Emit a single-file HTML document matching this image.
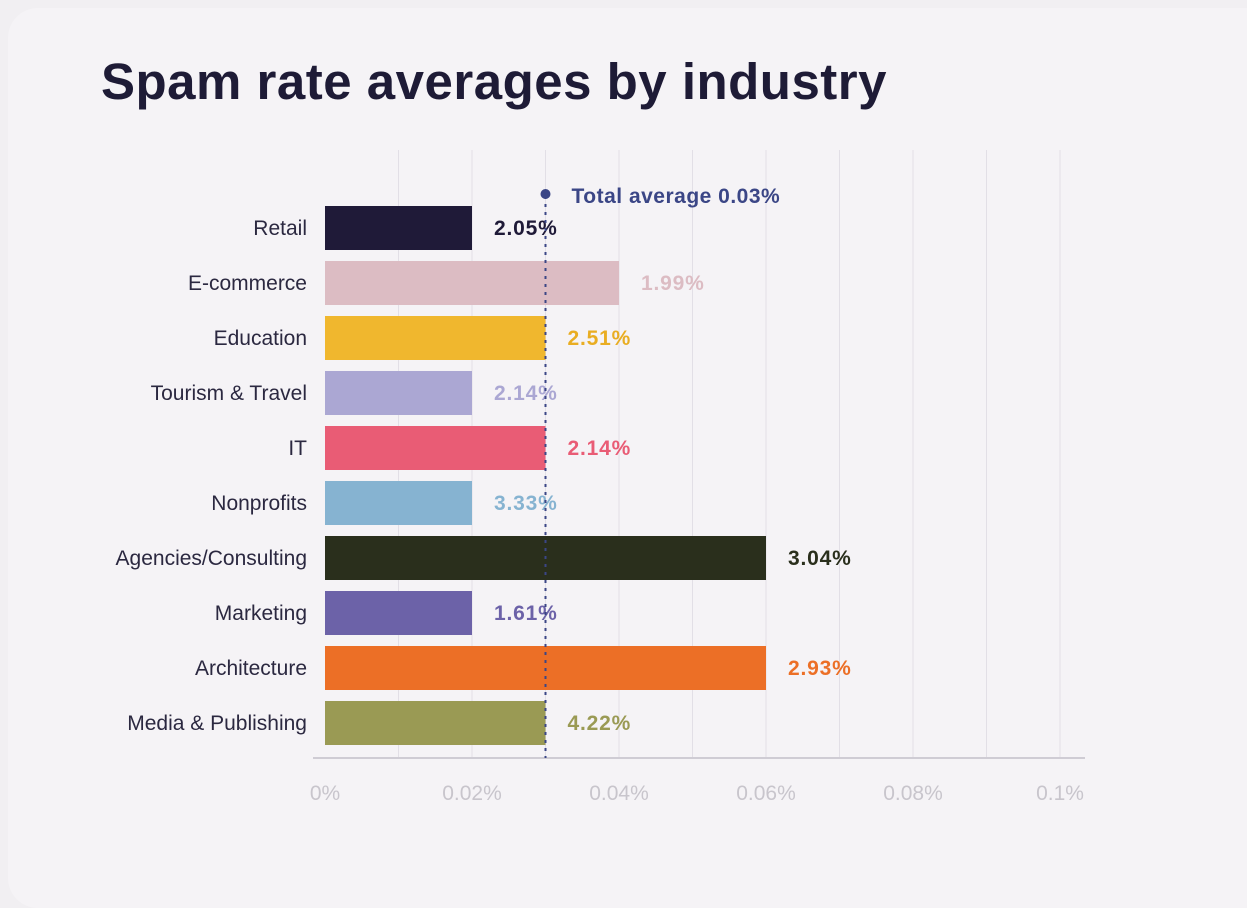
<!DOCTYPE html>
<html><head><meta charset="utf-8"><style>
body{margin:0;width:1247px;height:861px;background:#f1eff2;overflow:hidden;font-family:"Liberation Sans",sans-serif;position:relative}
#card{position:absolute;left:8px;top:8px;width:1300px;height:900px;background:#f5f3f6;border-radius:30px}
h1{position:absolute;left:101px;top:52px;margin:0;font-size:51px;font-weight:bold;color:#1e1b36;letter-spacing:0.5px}
</style></head><body>
<div id="card"></div>
<h1>Spam rate averages by industry</h1>
<svg id="chart" width="1247" height="861" style="position:absolute;left:0;top:0"></svg>
<script>
const categories=["Retail","E-commerce","Education","Tourism & Travel","IT","Nonprofits","Agencies/Consulting","Marketing","Architecture","Media & Publishing"];
const values=[0.02,0.04,0.03,0.02,0.03,0.02,0.06,0.02,0.06,0.03];
const printedLabels=["2.05%","1.99%","2.51%","2.14%","2.14%","3.33%","3.04%","1.61%","2.93%","4.22%"];
const colors=["#1f1a38","#dcbcc3","#f0b72e","#aba7d3","#e95c75","#86b3d1","#2a2f1c","#6c62a8","#ec6f26","#9a9a54"];
const labelColors=["#1f1a38","#dcbcc3","#e9ad22","#aba7d3","#e95c75","#86b3d1","#2a2f1c","#6c62a8","#ec6f26","#9a9a54"];
const ticks=[0,0.02,0.04,0.06,0.08,0.1];
const tickLabels=["0%","0.02%","0.04%","0.06%","0.08%","0.1%"];
const gridVals=[0.01,0.02,0.03,0.04,0.05,0.06,0.07,0.08,0.09,0.1];
const average=0.03;
const averageLabel="Total average 0.03%";
const NS="http://www.w3.org/2000/svg";
const svg=document.getElementById('chart');
const x=v=>325+v/0.1*735;
const y=i=>206+i*55;
const BH=44;
function mk(t,a,p){const e=document.createElementNS(NS,t);for(const k in a)e.setAttribute(k,a[k]);(p||svg).appendChild(e);return e;}
gridVals.forEach(g=>{
 const l=mk('line',{x1:x(g),x2:x(g),y1:150,y2:758,stroke:'#e2dfe6','stroke-width':1});
 
 
});
const ax=mk('line',{x1:313,x2:1085,y1:758,y2:758,stroke:'#cfccd4','stroke-width':2});


ticks.forEach((t,i)=>{
 const tx=mk('text',{x:x(t),y:800,'text-anchor':'middle','font-size':21,fill:'#c8c5cc'});
 tx.textContent=tickLabels[i];
 
 
});
categories.forEach((c,i)=>{
 const r=mk('rect',{x:x(0),y:y(i),width:x(values[i])-x(0),height:BH,fill:colors[i]});
 
 
 const lb=mk('text',{x:307,y:y(i)+BH/2+7,'text-anchor':'end','font-size':21,fill:'#2b2840'});
 lb.textContent=c;
 
 
 const vl=mk('text',{x:x(values[i])+22,y:y(i)+BH/2+7,'font-size':21,'font-weight':'bold','letter-spacing':'0.8',fill:labelColors[i]});
 vl.textContent=printedLabels[i];
 
 
});
const al=mk('line',{x1:x(average),x2:x(average),y1:196,y2:758,stroke:'#3b4686','stroke-width':2,'stroke-dasharray':'3,5'});


const ad=mk('circle',{cx:x(average),cy:194,r:5,fill:'#3b4686'});


const at=mk('text',{x:x(average)+26,y:203,'font-size':21,'font-weight':'bold','letter-spacing':'0.5',fill:'#3b4686'});
at.textContent=averageLabel;


</script>
</body></html>
